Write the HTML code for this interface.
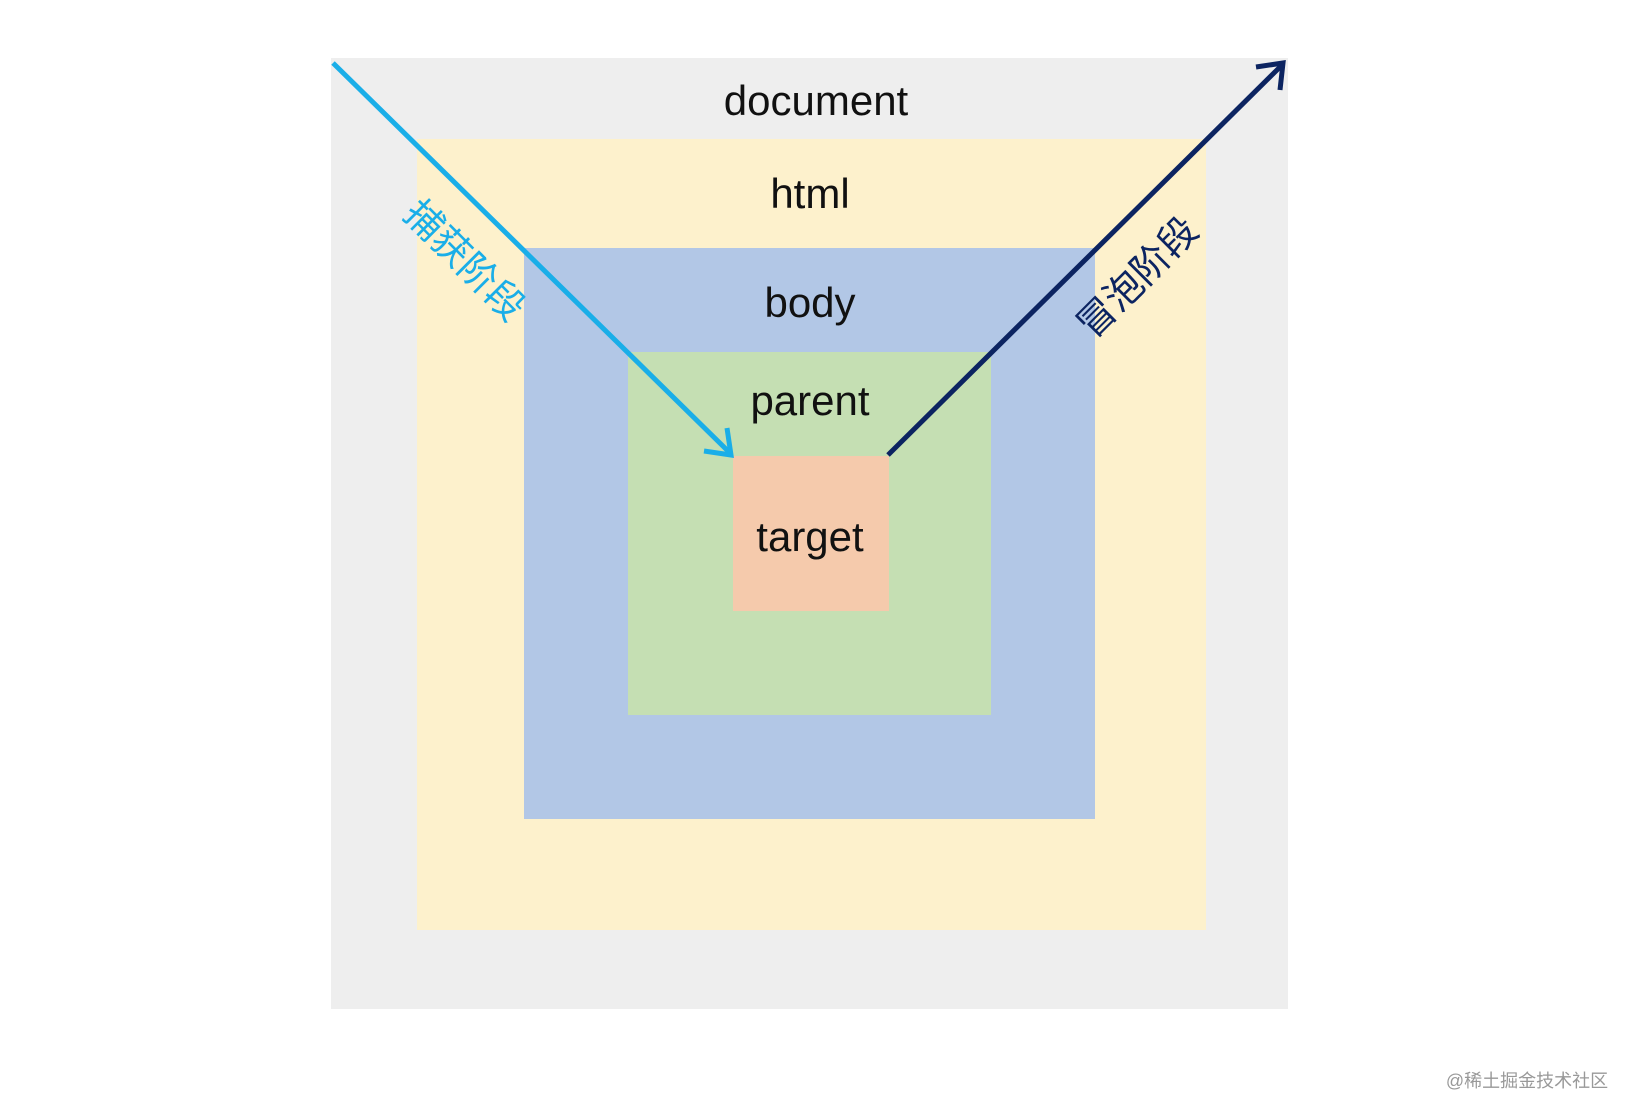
<!DOCTYPE html>
<html><head><meta charset="utf-8"><style>
body{margin:0;width:1634px;height:1118px;background:#fff;position:relative;overflow:hidden;font-family:"Liberation Sans","Noto Sans CJK SC",sans-serif}
.b{position:absolute}
.t{position:absolute;font-size:42px;color:#111;transform:translate(-50%,-50%);white-space:nowrap}
</style></head><body>
<div class="b" style="left:331px;top:58px;width:957px;height:951px;background:#eeeeee"></div>
<div class="b" style="left:417px;top:139px;width:789px;height:791px;background:#fdf1cc"></div>
<div class="b" style="left:524px;top:248px;width:571px;height:571px;background:#b2c7e6"></div>
<div class="b" style="left:628px;top:352px;width:363px;height:363px;background:#c5dfb3"></div>
<div class="b" style="left:733px;top:456px;width:156px;height:155px;background:#f5caac"></div>
<div class="t" style="left:816px;top:101px">document</div>
<div class="t" style="left:810px;top:194px">html</div>
<div class="t" style="left:810px;top:303px">body</div>
<div class="t" style="left:810px;top:401px">parent</div>
<div class="t" style="left:810px;top:537px">target</div>
<svg class="b" style="left:0;top:0" width="1634" height="1118">
<line x1="333" y1="63" x2="729" y2="452" stroke="#1aaee8" stroke-width="5"/>
<polyline points="704,451 731,455 727,428" fill="none" stroke="#1aaee8" stroke-width="5"/>
<line x1="888" y1="455" x2="1281" y2="66" stroke="#0c2461" stroke-width="5"/>
<polyline points="1256,67 1283,63 1280,90" fill="none" stroke="#0c2461" stroke-width="5"/>
</svg>
<div class="t" style="left:467px;top:258px;font-size:38px;color:#1aaee8;transform:translate(-50%,-50%) rotate(45deg)">捕获阶段</div>
<div class="t" style="left:1135px;top:275px;font-size:38px;color:#0c2461;transform:translate(-50%,-50%) rotate(-45deg)">冒泡阶段</div>
<div class="t" style="left:1527px;top:1080px;font-size:18px;color:#999">@稀土掘金技术社区</div>
</body></html>
